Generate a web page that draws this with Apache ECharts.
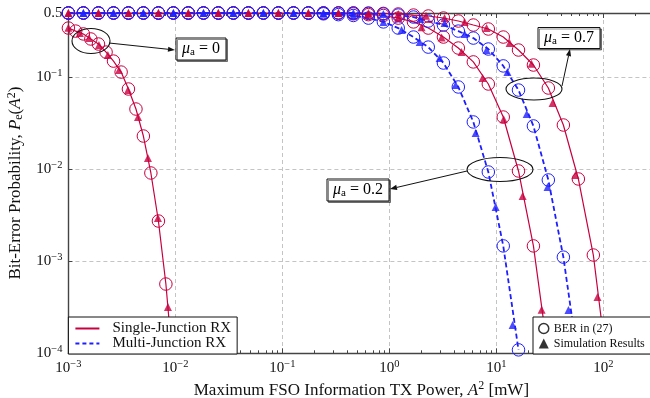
<!DOCTYPE html>
<html>
<head>
<meta charset="utf-8">
<script src="https://cdn.jsdelivr.net/npm/echarts@6/dist/echarts.min.js"></script>
<style>
  html, body { margin: 0; padding: 0; background: #fff; }
  #chart { width: 650px; height: 398px; }
</style>
</head>
<body>
<div id="chart"></div>
<script>
const crimson = '#c80040'
const blue = '#1e1eff'
const ink = '#111'
const serif = "'Liberation Serif', 'DejaVu Serif', serif"

// axis ranges
const xRange = [0.001, 300]
const yRange = [1e-4, 0.5]

// TX power grid of the closed-form curves (mW)
const txPower = [0.001, 0.00138, 0.00191, 0.00264, 0.00364, 0.00502, 0.00694, 0.00957, 0.0132, 0.0183,
  0.0252, 0.0348, 0.0481, 0.0664, 0.0918, 0.127, 0.175, 0.242, 0.334, 0.461,
  0.637, 0.879, 1.21, 1.68, 2.31, 3.20, 4.41, 6.09, 8.41, 11.6,
  16.1, 22.2, 30.6, 42.3, 58.4, 80.6, 111]
const txPowerFine = [0.001, 0.00117, 0.00138, 0.00162, 0.00191, 0.00225, 0.00264, 0.00311, 0.00364, 0.00428,
  0.00502, 0.00590, 0.00694, 0.00815, 0.00957]

// BER in (27), closed form (circles)
const berSingle0 = [0.343, 0.318, 0.296, 0.261, 0.230, 0.188, 0.150, 0.114, 0.0746, 0.0452,
  0.0230, 0.00912, 0.00274, 5.66e-4, 6.6e-5]
const berSingle02 = [0.5, 0.5, 0.5, 0.5, 0.5, 0.5, 0.5, 0.5, 0.5, 0.5,
  0.5, 0.5, 0.5, 0.5, 0.5, 0.5, 0.5, 0.5, 0.5, 0.49,
  0.48, 0.47, 0.44, 0.40, 0.343, 0.274, 0.208, 0.147, 0.0846, 0.0370,
  0.00959, 0.00147, 9.35e-5]
const berMulti02 = [0.5, 0.5, 0.5, 0.5, 0.5, 0.5, 0.5, 0.5, 0.5, 0.5,
  0.5, 0.5, 0.5, 0.5, 0.5, 0.5, 0.5, 0.49, 0.48, 0.47,
  0.44, 0.40, 0.343, 0.274, 0.213, 0.143, 0.0785, 0.0327, 0.00935, 0.00147,
  1.09e-4]
const berSingle07 = [0.5, 0.5, 0.5, 0.5, 0.5, 0.5, 0.5, 0.5, 0.5, 0.5,
  0.5, 0.5, 0.5, 0.5, 0.5, 0.5, 0.5, 0.5, 0.5, 0.5,
  0.5, 0.495, 0.488, 0.475, 0.464, 0.441, 0.409, 0.370, 0.335, 0.274,
  0.198, 0.136, 0.0765, 0.0303, 0.00785, 0.00117, 5.8e-5]
const berMulti07 = [0.5, 0.5, 0.5, 0.5, 0.5, 0.5, 0.5, 0.5, 0.5, 0.5,
  0.5, 0.5, 0.5, 0.5, 0.5, 0.5, 0.5, 0.5, 0.5, 0.5,
  0.495, 0.488, 0.475, 0.452, 0.409, 0.370, 0.318, 0.267, 0.203, 0.133,
  0.0727, 0.0296, 0.00766, 0.00111, 8.05e-5]

// simulation results (triangles), [power mW, BER]
const simSingle0 = [[0.001, 0.345], [0.00128, 0.303], [0.00156, 0.267], [0.00193, 0.224], [0.00234, 0.175],
  [0.00297, 0.120], [0.00360, 0.0727], [0.00447, 0.0370], [0.00554, 0.0133], [0.00687, 0.00296], [0.00852, 3.18e-4]]
const simSingle02 = [[0.001, 0.5], [0.00191, 0.5], [0.00364, 0.5], [0.00694, 0.5], [0.0132, 0.5],
  [0.0252, 0.5], [0.0481, 0.5], [0.0918, 0.5], [0.175, 0.5], [0.334, 0.5], [0.637, 0.48], [1.21, 0.44],
  [2.00, 0.35], [3.08, 0.27], [4.73, 0.188], [7.43, 0.0982], [11.7, 0.035], [17.6, 0.00513], [26.5, 2.97e-4]]
const simMulti02 = [[0.00138, 0.5], [0.00264, 0.5], [0.00502, 0.5], [0.00957, 0.5], [0.0183, 0.5],
  [0.0348, 0.5], [0.0664, 0.5], [0.127, 0.5], [0.242, 0.49], [0.461, 0.47], [0.879, 0.40],
  [1.30, 0.327], [1.92, 0.242], [2.95, 0.162], [4.16, 0.0824], [6.40, 0.0248], [9.84, 0.00389], [14.2, 2.03e-4]]
const simSingle07 = [[0.001, 0.5], [0.00191, 0.5], [0.00364, 0.5], [0.00694, 0.5], [0.0132, 0.5],
  [0.0252, 0.5], [0.0481, 0.5], [0.0918, 0.5], [0.175, 0.5], [0.334, 0.5], [0.637, 0.5], [1.21, 0.488],
  [2.2, 0.468], [3.28, 0.44], [5.05, 0.399], [8.10, 0.343], [13.3, 0.236], [21.3, 0.140], [33.5, 0.0526],
  [54.9, 0.00867], [88.2, 4.09e-4]]
const simMulti07 = [[0.00138, 0.5], [0.00264, 0.5], [0.00502, 0.5], [0.00957, 0.5], [0.0183, 0.5],
  [0.0348, 0.5], [0.0664, 0.5], [0.127, 0.5], [0.242, 0.5], [0.461, 0.5], [0.879, 0.488],
  [1.95, 0.43], [3.28, 0.389], [5.05, 0.296], [8.10, 0.198], [12.7, 0.114], [19.2, 0.0399],
  [30.1, 0.00643], [47.2, 2.96e-4]]

const muLabels = ['0', '0.2', '0.7']

const pair = (xs, ys) => ys.map((y, i) => [xs[i], y])

const berLine = (data, color, dashed) => ({
  type: 'line',
  data,
  symbol: 'circle',
  symbolSize: 12.5,
  showAllSymbol: true,
  silent: true,
  itemStyle: { color: 'rgba(0,0,0,0)', borderColor: color, borderWidth: 1 },
  lineStyle: dashed ? { color, width: 1.8, type: [5, 3] } : { color, width: 1.2 },
  z: 3
})

const simPoints = (data, color) => ({
  type: 'scatter',
  data,
  symbol: 'triangle',
  symbolSize: [8, 8],
  silent: true,
  itemStyle: { color },
  z: 4
})

const powLabel = (v) => {
  const lg = Math.log10(v)
  const e = Math.round(lg)
  if (Math.abs(lg - e) > 1e-6) return Math.abs(v - 0.5) < 1e-9 ? '0.5' : ''
  return '{b|10}{s|' + (e < 0 ? '\u2212' : '') + Math.abs(e) + '}'
}

const labelRich = {
  b: { fontFamily: serif, fontSize: 15, color: ink },
  s: { fontFamily: serif, fontSize: 10.5, color: ink, padding: [0, 0, 8, 0] }
}

const nameRich = {
  t: { fontFamily: serif, fontSize: 17, color: ink },
  i: { fontFamily: serif, fontSize: 17, color: ink, fontStyle: 'italic' },
  sub: { fontFamily: serif, fontSize: 12, color: ink, padding: [7, 0, 0, 0] },
  sup: { fontFamily: serif, fontSize: 12, color: ink, padding: [0, 0, 8, 0] }
}

const arrow = (x1, y1, x2, y2) => {
  const a = Math.atan2(y2 - y1, x2 - x1)
  const len = 7
  const w = 2.6
  const bx = x2 - len * Math.cos(a)
  const by = y2 - len * Math.sin(a)
  const px = -Math.sin(a) * w
  const py = Math.cos(a) * w
  return [
    { type: 'line', shape: { x1, y1, x2: bx, y2: by }, style: { stroke: ink, lineWidth: 1 }, z: 50 },
    { type: 'polygon', shape: { points: [[x2, y2], [bx + px, by + py], [bx - px, by - py]] }, style: { fill: ink }, z: 50 }
  ]
}

const muBox = (cx, cy, w, h, val) => [
  {
    type: 'rect',
    shape: { x: cx - w / 2, y: cy - h / 2, width: w, height: h },
    style: { fill: '#fff', stroke: ink, lineWidth: 1, shadowColor: 'rgba(0,0,0,0.45)', shadowOffsetX: 1.5, shadowOffsetY: 1.5 },
    z: 50
  },
  {
    type: 'text',
    x: cx,
    y: cy,
    style: {
      text: '{m|\u03bc}{a|a}{n| = ' + val + '}',
      align: 'center',
      verticalAlign: 'middle',
      rich: {
        m: { fontFamily: serif, fontSize: 16, fontStyle: 'italic', color: ink },
        a: { fontFamily: serif, fontSize: 11, color: ink, padding: [7, 0, 0, 0] },
        n: { fontFamily: serif, fontSize: 16, color: ink }
      }
    },
    z: 51
  }
]

const ellipse = (cx, cy, rx, ry) => ({
  type: 'ellipse',
  shape: { cx, cy, rx, ry },
  style: { fill: 'none', stroke: ink, lineWidth: 1.1 },
  z: 50
})

const baseX = {
  type: 'log',
  logBase: 10,
  min: xRange[0],
  max: xRange[1],
  axisLine: { show: true, lineStyle: { color: '#444', width: 1.4 } },
  axisTick: { show: true, inside: true, length: 5, lineStyle: { color: '#444' } },
  minorTick: { show: true, splitNumber: 9, length: 3, lineStyle: { color: '#444' } }
}

const chart = echarts.init(document.getElementById('chart'), null, { renderer: 'canvas' })

chart.setOption({
  animation: false,
  backgroundColor: '#fff',
  grid: { left: 68.4, top: 13, width: 586, height: 340.3, containLabel: false, outerBoundsMode: 'none' },
  xAxis: [
    Object.assign({}, baseX, {
      position: 'bottom',
      axisLabel: { formatter: powLabel, margin: 5, fontFamily: serif, fontSize: 15, color: ink, rich: labelRich },
      splitLine: { show: true, lineStyle: { color: '#c4c4c4', width: 1, type: [4, 3] } },
      name: '{t|Maximum FSO Information TX Power, }{i|A}{sup|2}{t| [mW]}',
      nameLocation: 'middle',
      nameGap: 18,
      nameTextStyle: { rich: nameRich }
    }),
    Object.assign({}, baseX, {
      position: 'top',
      axisLabel: { show: false },
      splitLine: { show: false }
    })
  ],
  yAxis: {
    type: 'log',
    logBase: 10,
    min: yRange[0],
    max: yRange[1],
    axisLine: { show: true, lineStyle: { color: '#444', width: 1.4 } },
    axisTick: { show: true, inside: true, length: 4, lineStyle: { color: '#444' } },
    axisLabel: { formatter: powLabel, margin: 6, fontFamily: serif, fontSize: 15, color: ink, rich: labelRich },
    splitLine: { show: true, lineStyle: { color: '#c4c4c4', width: 1, type: [4, 3] } },
    name: '{t|Bit-Error Probability, }{i|P}{sub|e}{t|(}{i|A}{sup|2}{t|)}',
    nameLocation: 'middle',
    nameGap: 38,
    nameRotate: 90,
    nameTextStyle: { rich: nameRich }
  },
  legend: [
    {
      data: [
        { name: 'Single-Junction RX', itemStyle: { opacity: 0 } },
        { name: 'Multi-Junction RX', itemStyle: { opacity: 0 } }
      ],
      left: 68.4,
      top: 317,
      orient: 'vertical',
      backgroundColor: '#fff',
      borderColor: ink,
      borderWidth: 1,
      borderRadius: 0,
      padding: [4, 6, 3, 6],
      itemWidth: 24,
      itemHeight: 10,
      itemGap: 0,
      selectedMode: false,
      textStyle: { fontFamily: serif, fontSize: 15, color: ink, lineHeight: 15, padding: [0, 0, 0, 8] },
      z: 20
    },
    {
      data: [
        { name: 'BER in (27)', icon: 'circle', itemStyle: { color: '#fff', borderColor: '#000', borderWidth: 1.5 } },
        { name: 'Simulation Results', icon: 'triangle', itemStyle: { color: '#000' } }
      ],
      left: 533,
      top: 317,
      orient: 'vertical',
      backgroundColor: '#fff',
      borderColor: ink,
      borderWidth: 1,
      borderRadius: 0,
      padding: [4, 8, 3, 5],
      itemWidth: 10,
      itemHeight: 10,
      itemGap: 0,
      selectedMode: false,
      textStyle: { fontFamily: serif, fontSize: 12, color: ink, lineHeight: 15 },
      z: 20
    }
  ],
  graphic: [
    ellipse(91, 41, 19, 12.5),
    ...arrow(109, 43, 175, 50),
    ...muBox(201, 49, 50, 22, muLabels[0]),
    ellipse(500, 169.5, 33, 12),
    ...arrow(467, 171, 390, 189),
    ...muBox(358, 190, 62, 22, muLabels[1]),
    ellipse(534, 89, 28, 11),
    ...arrow(562, 86, 570, 49),
    ...muBox(569, 38, 62, 21, muLabels[2])
  ],
  series: [
    berLine(pair(txPowerFine, berSingle0), crimson, false),
    berLine(pair(txPower, berSingle02), crimson, false),
    berLine(pair(txPower, berSingle07), crimson, false),
    berLine(pair(txPower, berMulti02), blue, true),
    berLine(pair(txPower, berMulti07), blue, true),
    simPoints(simSingle0, crimson),
    simPoints(simSingle02, crimson),
    simPoints(simSingle07, crimson),
    simPoints(simMulti02, blue),
    simPoints(simMulti07, blue),
    { name: 'Single-Junction RX', type: 'line', data: [], symbol: 'none', lineStyle: { color: crimson, width: 1.2 }, itemStyle: { color: crimson } },
    { name: 'Multi-Junction RX', type: 'line', data: [], symbol: 'none', lineStyle: { color: blue, width: 1.8, type: [4, 3] }, itemStyle: { color: blue } },
    { name: 'BER in (27)', type: 'scatter', data: [], symbol: 'circle', itemStyle: { color: '#fff', borderColor: '#000', borderWidth: 1.5 } },
    { name: 'Simulation Results', type: 'scatter', data: [], symbol: 'triangle', itemStyle: { color: '#000' } }
  ]
})
</script>
</body>
</html>
